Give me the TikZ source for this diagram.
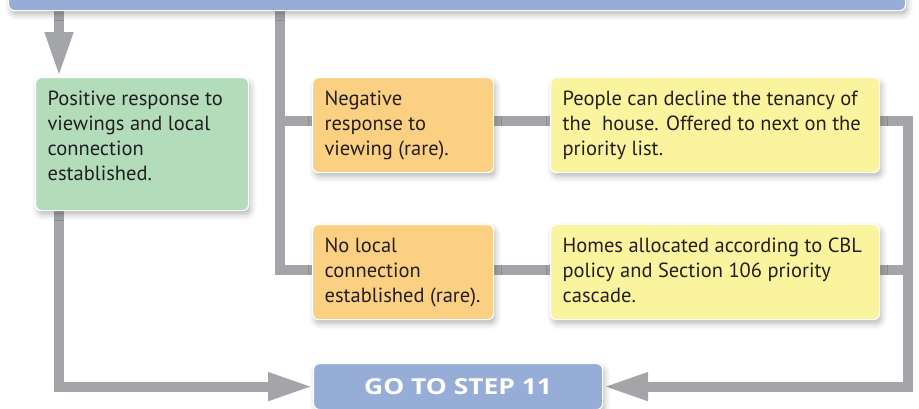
\documentclass[tikz,border=0pt]{standalone}
\usepackage{fontspec}
\setmainfont{PT Sans}
\newfontfamily\stepfont[BoldFont={Open Sans Bold},FakeStretch=1.2]{Open Sans}
\usetikzlibrary{arrows.meta,calc,shadows.blur}

\definecolor{stepblue}{HTML}{95ADD7}
\definecolor{okgreen}{HTML}{B2DCBA}
\definecolor{warnorange}{HTML}{FCD082}
\definecolor{notegold}{HTML}{FAF49E}
\definecolor{linkgrey}{HTML}{A4A5A9}
\definecolor{inkdark}{HTML}{231F20}

\pgfdeclarelayer{wires}
\pgfsetlayers{wires,main}

% text block with its first baseline 28pt below the top edge
\newcommand\cardtext[3]{\parbox[c][#2][t]{#1}{\raggedright\rule{0pt}{28pt}#3}}

\begin{document}
\begin{tikzpicture}[x=1pt,y=-1pt,
  card/.style={draw=white, line width=1.2pt, rounded corners=6pt,
    inner xsep=12pt, inner ysep=0pt, anchor=north west, text=inkdark,
    font=\fontsize{20.5}{25}\selectfont,
    blur shadow={shadow xshift=2pt, shadow yshift=-4pt,
      shadow blur radius=6pt, shadow opacity=28}},
  conn/.style={draw=linkgrey, line width=10pt, line join=miter},
  tip/.style={-{Triangle[length=45pt,width=26pt]}}]

\useasboundingbox (0,0) rectangle (919,408);

% boxes
\node[card, fill=stepblue, minimum width=897pt, minimum height=40pt,
      inner sep=0pt] (top) at (8,-30) {};
\node[card, fill=okgreen] (green) at (35,77)
  {\cardtext{189pt}{133pt}{Positive response to\\viewings and local\\connection\\established.}};
\node[card, fill=warnorange] (neg) at (312,77)
  {\cardtext{157pt}{95pt}{Negative\\response to\\viewing (rare).}};
\node[card, fill=notegold] (people) at (550,77)
  {\cardtext{305pt}{95pt}{People can decline the tenancy of\\the\ \ house. Offered to next on the\\priority list.}};
\node[card, fill=warnorange] (nolocal) at (312,224)
  {\cardtext{157pt}{95pt}{No local\\connection\\established (rare).}};
\node[card, fill=notegold] (homes) at (550,224)
  {\cardtext{305pt}{95pt}{Homes allocated according to CBL\\policy and Section 106 priority\\cascade.}};
\node[card, fill=stepblue, minimum width=289pt, minimum height=46pt,
      inner sep=0pt, font=\stepfont\bfseries\fontsize{22}{25}\selectfont, text=white]
  (goto) at (313,363) {GO TO STEP 11};

% helper points for the grey connectors
\coordinate (gx) at ($(green.north west)+(24,0)$);
\coordinate (vx) at ($(neg.west)+(-32,0)$);
\coordinate (rx) at ($(people.east)+(28,0)$);
\coordinate (negin) at ([yshift=4.5pt]neg.west);
\coordinate (negout) at ([yshift=4.5pt]neg.east);
\coordinate (peoplein) at ([yshift=4.5pt]people.west);
\coordinate (peopleout) at ([yshift=4.5pt]people.east);
\coordinate (nolocalin) at ([yshift=2.5pt]nolocal.west);
\coordinate (nolocalout) at ([yshift=2.5pt]nolocal.east);
\coordinate (homesin) at ([yshift=2.5pt]homes.west);
\coordinate (homesout) at ([yshift=2.5pt]homes.east);

\begin{pgfonlayer}{wires}
  \draw[conn, tip] (top.south -| gx) -- (gx);
  \draw[conn] (top.south -| vx) |- (nolocalin);
  \draw[conn] (vx |- negin) -- (negin);
  \draw[conn] (negout) -- (peoplein);
  \draw[conn] (nolocalout) -- (homesin);
  \draw[conn] (homesout) -- (rx |- homesout);
  \draw[conn, tip] (peopleout) -| (rx |- goto.east) -- (goto.east);
  \draw[conn, tip] (gx |- green.south) |- (goto.west);
\end{pgfonlayer}
\end{tikzpicture}
\end{document}
